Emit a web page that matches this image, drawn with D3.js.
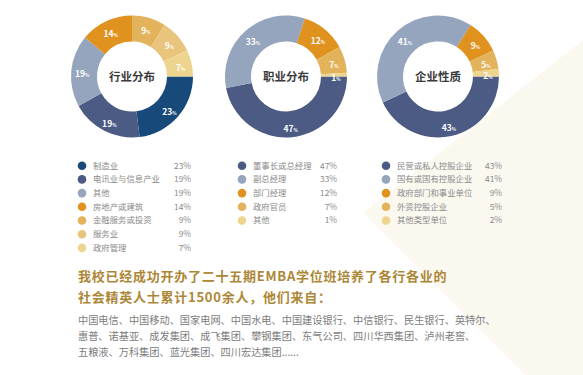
<!DOCTYPE html>
<html>
<head>
<meta charset="utf-8">
<script src="https://cdn.jsdelivr.net/npm/d3@7"></script>
<style>
  html, body { margin: 0; padding: 0; background: #fff; }
  svg { display: block; font-family: "Noto Sans CJK SC", "Noto Sans", sans-serif; }
</style>
</head>
<body>
<div id="chart"></div>
<script>
// data
var industryLabels = ["制造业", "电讯业与信息产业", "其他", "房地产或建筑", "金融服务或投资", "服务业", "政府管理"];
var industryValues = [23, 19, 19, 14, 9, 9, 7];

var jobLabels = ["董事长或总经理", "副总经理", "部门经理", "政府官员", "其他"];
var jobValues = [47, 33, 12, 7, 1];

var companyLabels = ["民营或私人控股企业", "国有或国有控股企业", "政府部门和事业单位", "外资控股企业", "其他类型单位"];
var companyValues = [43, 41, 9, 5, 2];

var chartTitles = ["行业分布", "职业分布", "企业性质"];

var headingLines = [
  "我校已经成功开办了二十五期EMBA学位班培养了各行各业的",
  "社会精英人士累计1500余人，他们来自："
];
var bodyLines = [
  "中国电信、中国移动、国家电网、中国水电、中国建设银行、中信银行、民生银行、英特尔、",
  "惠普、诺基亚、成发集团、成飞集团、攀钢集团、东气公司、四川华西集团、泸州老窖、",
  "五粮液、万科集团、蓝光集团、四川宏达集团......"
];

var W = 583, H = 375;
var NAVY = "#174a7b", SLATE = "#4c5b83", GREYBLUE = "#94a5bd",
    ORANGE = "#e0921f", GOLD = "#e2b35b", SAND = "#e9c47c", PALE = "#eed58f";

var charts = [
  {labels: industryLabels, values: industryValues, cx: 132, legendX: 82, pctX: 191,
   colors: [NAVY, SLATE, GREYBLUE, ORANGE, GOLD, SAND, PALE]},
  {labels: jobLabels, values: jobValues, cx: 286, legendX: 242, pctX: 337,
   colors: [SLATE, GREYBLUE, ORANGE, GOLD, PALE]},
  {labels: companyLabels, values: companyValues, cx: 438, legendX: 386, pctX: 502,
   colors: [SLATE, GREYBLUE, ORANGE, GOLD, PALE]}
];

var svg = d3.select("#chart").append("svg")
  .attr("width", W).attr("height", H)
  .attr("viewBox", [0, 0, W, H].join(" "));

// cream background shape on the right
svg.append("polygon")
  .attr("points", [[363, 213], [583, 40], [583, 375], [525, 375]].map(function(p) { return p.join(","); }).join(" "))
  .attr("fill", "#fbf8f0");

var CY = 76.5, R_OUT = 61, R_IN = 35, R_LABEL = 50;

var pie = d3.pie()
  .sort(null)
  .startAngle(Math.PI / 2)
  .endAngle(Math.PI / 2 + 2 * Math.PI);

var arc = d3.arc().innerRadius(R_IN).outerRadius(R_OUT);
var labelArc = d3.arc().innerRadius(R_LABEL).outerRadius(R_LABEL);

var legendY = d3.scaleLinear().domain([0, 1]).range([165.7, 179.4]);

charts.forEach(function(c, ci) {
  var color = d3.scaleOrdinal().domain(c.labels).range(c.colors);
  var arcs = pie(c.values);

  var g = svg.append("g")
    .attr("transform", "translate(" + c.cx + "," + CY + ")");

  g.selectAll("path")
    .data(arcs)
    .enter().append("path")
    .attr("d", arc)
    .attr("fill", function(d, i) { return color(c.labels[i]); });

  var lbl = g.selectAll(".pct")
    .data(arcs)
    .enter().append("text")
    .attr("class", "pct")
    .attr("transform", function(d) { return "translate(" + labelArc.centroid(d) + ")"; })
    .attr("text-anchor", "middle")
    .attr("dy", "0.35em")
    .attr("fill", "#fff")
    .attr("font-weight", "bold");
  lbl.append("tspan").attr("font-size", "8.5px").text(function(d) { return d.data; });
  lbl.append("tspan").attr("font-size", "4.5px").text("%");

  g.append("text")
    .attr("text-anchor", "middle")
    .attr("dy", "0.36em")
    .attr("font-size", "11.5px")
    .attr("font-weight", "bold")
    .attr("fill", "#3b3b3b")
    .text(chartTitles[ci]);

  // legend
  var rows = svg.append("g").selectAll("g")
    .data(c.labels)
    .enter().append("g")
    .attr("transform", function(d, i) { return "translate(0," + legendY(i) + ")"; });

  rows.append("circle")
    .attr("cx", c.legendX)
    .attr("r", 4.3)
    .attr("fill", function(d) { return color(d); });

  rows.append("text")
    .attr("x", c.legendX + 11)
    .attr("dy", "0.35em")
    .attr("font-size", "8.4px")
    .attr("fill", "#8a8a8a")
    .text(function(d) { return d; });

  rows.append("text")
    .attr("x", c.pctX)
    .attr("dy", "0.35em")
    .attr("text-anchor", "end")
    .attr("font-size", "8.4px")
    .attr("fill", "#8a8a8a")
    .text(function(d, i) { return c.values[i] + "%"; });
});

// text block
svg.append("g").selectAll("text")
  .data(headingLines)
  .enter().append("text")
  .attr("x", 78)
  .attr("y", function(d, i) { return 276 + i * 21; })
  .attr("dy", "0.36em")
  .attr("font-size", "13px")
  .attr("letter-spacing", "0.75px")
  .attr("font-weight", "bold")
  .attr("fill", "#ad8738")
  .text(function(d) { return d; });

svg.append("g").selectAll("text")
  .data(bodyLines)
  .enter().append("text")
  .attr("x", 78)
  .attr("y", function(d, i) { return 320 + i * 16.2; })
  .attr("dy", "0.36em")
  .attr("font-size", "10.2px")
  .attr("fill", "#7c7c7c")
  .text(function(d) { return d; });
</script>
</body>
</html>
